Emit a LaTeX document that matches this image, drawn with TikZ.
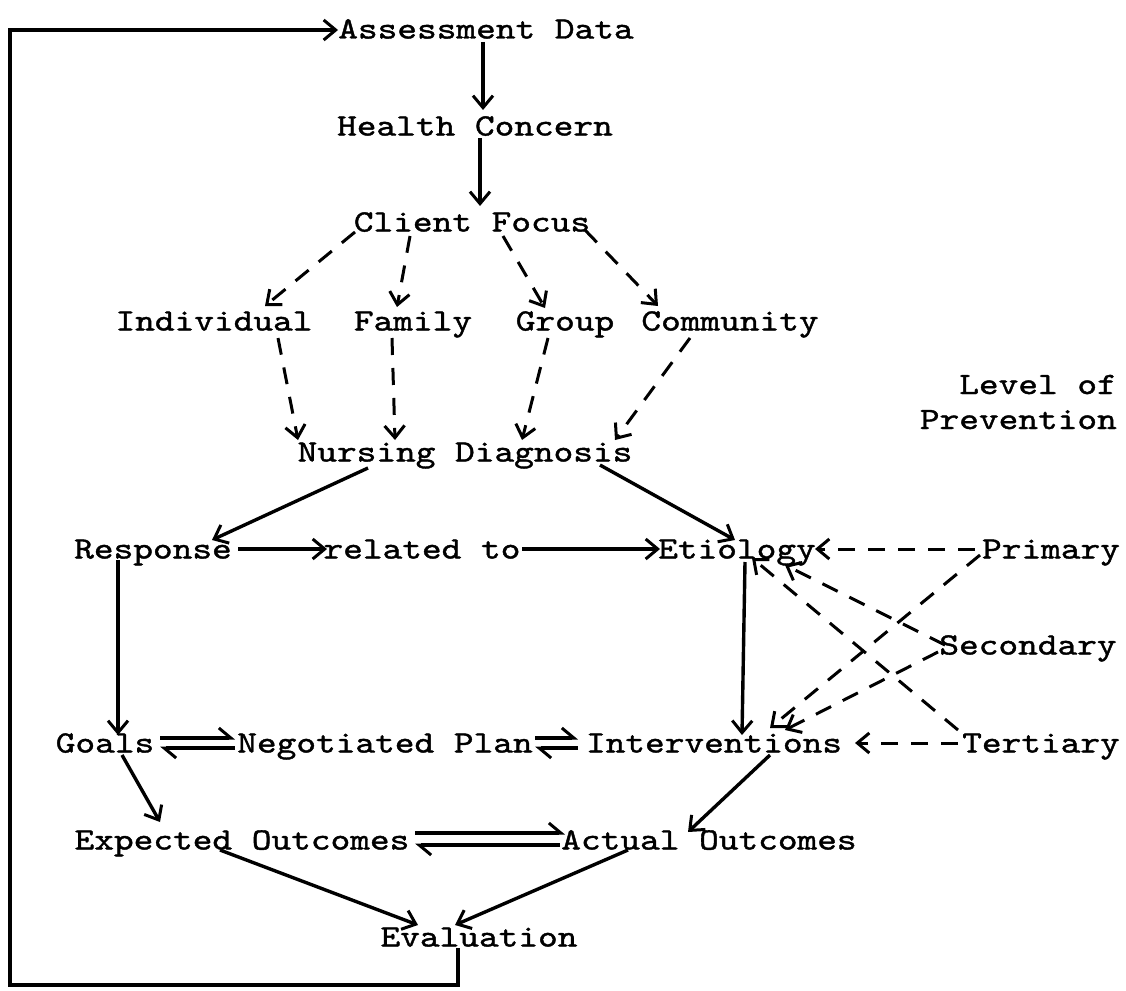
\documentclass[tikz,border=0pt]{standalone}
\usepackage{fontspec}
\newfontfamily\tw{lmmono10-regular.otf}[FakeStretch=1.21,FakeBold=1.3]
\usetikzlibrary{arrows.meta,calc}
\begin{document}
\begin{tikzpicture}[x=1pt,y=-1pt,
  lbl/.style={font=\tw\fontsize{31}{35}\selectfont, inner sep=0pt, text height=19pt, text depth=0pt, anchor=center},
  tip/.style={-{Straight Barb[length=12pt,width=20pt,line width=3pt]}},
  solidarr/.style={tip, line width=3.4pt},
  dasharr/.style={tip, line width=3pt, dash pattern=on 17pt off 13pt},
  harpR/.style={-{Straight Barb[left,length=12pt,width=20pt,line width=3pt]}, line width=3.2pt},
]
\useasboundingbox (0,0) rectangle (1126,990);
% nodes
\node[lbl] (A) at (486,29) {Assessment Data};
\node[lbl] (H) at (475,126) {Health Concern};
\node[lbl] (C) at (472,222) {Client Focus};
\node[lbl] (ind) at (214,321) {Individual};
\node[lbl] (fam) at (413,321) {Family};
\node[lbl] (grp) at (565,321) {Group};
\node[lbl] (com) at (730,321) {Community};
\node[font=\tw\fontsize{31}{35}\selectfont, inner sep=0pt, align=right, anchor=base east] (lvl) at (1117,429) {Level of\\Prevention};
\node[lbl] (nd) at (465,452) {Nursing Diagnosis};
\node[lbl] (resp) at (153,549) {Response};
\node[lbl] (rel) at (422,549) {related to};
\node[lbl] (eti) at (737,549) {Etiology};
\node[lbl] (pri) at (1051,549) {Primary};
\node[lbl] (sec) at (1028,645) {Secondary};
\node[lbl] (ter) at (1041,743) {Tertiary};
\node[lbl] (goals) at (105,743) {Goals};
\node[lbl] (plan) at (385,743) {Negotiated Plan};
\node[lbl] (int) at (714,743) {Interventions};
\node[lbl] (exp) at (242,840) {Expected Outcomes};
\node[lbl] (act) at (709,840) {Actual Outcomes};
\node[lbl] (eval) at (479,937) {Evaluation};
\coordinate (lc1) at (10,985);
\coordinate (lc2) at (10,30);
% solid arrows
\draw[solidarr] ($(A)+(-3,13)$) -- ($(H)+(8,-16)$);
\draw[solidarr] ($(H)+(5,12)$) -- ($(C)+(8,-16)$);
\draw[solidarr] ($(nd)+(-97,16)$) -- ($(resp)+(59,-9)$);
\draw[solidarr] ($(nd)+(135,13)$) -- ($(eti)+(-2,-9)$);
\draw[solidarr] ($(resp)+(85,0)$) -- ($(rel)+(-95,0)$);
\draw[solidarr] ($(rel)+(100,0)$) -- ($(eti)+(-77,0)$);
\draw[solidarr] ($(resp)+(-35,11)$) -- ($(goals)+(13,-8)$);
\draw[solidarr] ($(eti)+(8,13)$) -- ($(int)+(28,-8)$);
\draw[solidarr] ($(goals)+(17,12)$) -- ($(exp)+(-82,-18)$);
\draw[solidarr] ($(int)+(56,12)$) -- ($(act)+(-21,-8)$);
\draw[solidarr] ($(exp)+(-22,10)$) -- ($(eval)+(-61,-12)$);
\draw[solidarr] ($(act)+(-81,10)$) -- ($(eval)+(-24,-12)$);
% harpoons
\draw[harpR] ($(goals)+(55,-5)$) -- ($(plan)+(-150,-5)$);
\draw[harpR] ($(plan)+(-150,5)$) -- ($(goals)+(55,5)$);
\draw[harpR] ($(plan)+(150,-5)$) -- ($(int)+(-136,-5)$);
\draw[harpR] ($(int)+(-136,5)$) -- ($(plan)+(150,5)$);
\draw[harpR] ($(exp)+(173,-7)$) -- ($(act)+(-144,-7)$);
\draw[harpR] ($(act)+(-149,5)$) -- ($(exp)+(173,5)$);
% dashed arrows
\draw[dasharr] ($(C)+(-117,10)$) -- ($(ind)+(51,-15)$);
\draw[dasharr] ($(C)+(-62,14)$) -- ($(fam)+(-16,-14)$);
\draw[dasharr] ($(C)+(31,14)$) -- ($(grp)+(-20,-13)$);
\draw[dasharr] ($(C)+(113,8)$) -- ($(com)+(-72,-15)$);
\draw[dasharr] ($(ind)+(64,17)$) -- ($(nd)+(-167,-12)$);
\draw[dasharr] ($(fam)+(-21,17)$) -- ($(nd)+(-70,-12)$);
\draw[dasharr] ($(grp)+(-17,17)$) -- ($(nd)+(57,-12)$);
\draw[dasharr] ($(com)+(-40,17)$) -- ($(nd)+(150,-12)$);
\draw[dasharr] ($(pri)+(-76,0)$) -- ($(eti)+(78,0)$);
\draw[dasharr] ($(sec)+(-83,0)$) -- ($(eti)+(48,16)$);
\draw[dasharr] ($(ter)+(-83,-13)$) -- ($(eti)+(15,9)$);
\draw[dasharr] ($(pri)+(-71,6)$) -- ($(int)+(56,-15)$);
\draw[dasharr] ($(sec)+(-90,7)$) -- ($(int)+(71,-13)$);
\draw[dasharr] ($(ter)+(-83,0)$) -- ($(int)+(141,0)$);
% feedback loop
\draw[solidarr, line width=4pt] ($(eval)+(-21,11)$) |- (lc1) -- (lc2) -- ($(A)+(-148,1)$);
\end{tikzpicture}
\end{document}
